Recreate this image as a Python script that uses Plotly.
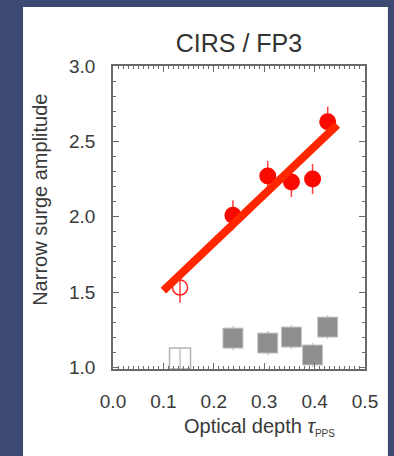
import plotly.graph_objects as go

# Optical depth of each observation and the narrow-surge amplitudes measured there
tau = [0.238, 0.307, 0.354, 0.396, 0.426]
amp_red = [2.01, 2.27, 2.23, 2.25, 2.63]
err_red = [0.10, 0.10, 0.10, 0.10, 0.10]

# Low-tau point shown separately (open symbols)
tau_low = [0.133]
amp_red_low = [1.53]
err_red_low_up = [0.06]
err_red_low_dn = [0.10]

# Reference (grey) amplitudes at the same optical depths
amp_grey = [1.195, 1.162, 1.202, 1.083, 1.268]
err_grey = [0.08, 0.08, 0.08, 0.08, 0.08]
amp_grey_low = [1.06]
err_grey_low = [0.07]

# Linear fit through the red points
fit_x = [0.10, 0.445]
fit_y = [1.51, 2.61]

x_ticks = [0.0, 0.1, 0.2, 0.3, 0.4, 0.5]
y_ticks = [1.0, 1.5, 2.0, 2.5, 3.0]

FONT = "Liberation Sans, Arial, Helvetica, sans-serif"
TXT = "#3a3a3a"
AX = "#6a6a6a"

fig = go.Figure()

fig.add_trace(go.Scatter(
    x=tau_low, y=amp_grey_low, mode="markers",
    marker=dict(symbol="square-open", size=21, color="#b4b4b4", line=dict(width=1.5)),
    error_y=dict(type="data", array=err_grey_low, color="#b4b4b4", thickness=1.2, width=0),
    showlegend=False))

fig.add_trace(go.Scatter(
    x=tau, y=amp_grey, mode="markers",
    marker=dict(symbol="square", size=20, color="#8e8e8e", line=dict(color="#c4c4c4", width=1)),
    error_y=dict(type="data", array=err_grey, color="#bdbdbd", thickness=1.2, width=0),
    showlegend=False))

fig.add_trace(go.Scatter(
    x=tau_low, y=amp_red_low, mode="markers",
    marker=dict(symbol="circle-open", size=15, color="#ff2020", line=dict(width=1.5)),
    error_y=dict(type="data", symmetric=False, array=err_red_low_up,
                 arrayminus=err_red_low_dn, color="#ff3a3a", thickness=1.5, width=0),
    showlegend=False))

fig.add_trace(go.Scatter(
    x=tau, y=amp_red, mode="markers",
    marker=dict(symbol="circle", size=17, color="#f80a00", line=dict(width=0)),
    error_y=dict(type="data", array=err_red, color="#ff4040", thickness=1.5, width=0),
    showlegend=False))

fig.add_trace(go.Scatter(
    x=fit_x, y=fit_y, mode="lines",
    line=dict(color="#ff2600", width=8),
    showlegend=False))

# White panel behind the plot
fig.add_shape(type="rect", xref="paper", yref="paper",
              x0=-0.357, x1=1.091, y0=-0.32, y1=1.195,
              fillcolor="white", line=dict(width=0), layer="below")

axis_common = dict(
    showgrid=False, zeroline=False, showline=True, linecolor=AX, linewidth=1.5,
    mirror="ticks", ticks="inside", ticklen=6, tickwidth=1.2, tickcolor=AX,
    tickfont=dict(family=FONT, size=19, color=TXT),
)

fig.update_xaxes(
    range=[0, 0.5], tickvals=x_ticks, tickformat=".1f",
    ticklabelstandoff=14,
    minor=dict(dtick=0.01, ticks="inside", ticklen=3, tickcolor=AX, tickwidth=1),
    **axis_common)
fig.update_yaxes(
    range=[0.99, 3.0], tickvals=y_ticks, tickformat=".1f",
    ticklabelstandoff=12,
    minor=dict(dtick=0.1, ticks="inside", ticklen=3, tickcolor=AX, tickwidth=1),
    **axis_common)

fig.add_annotation(
    text="Optical depth <i>τ</i><sub><span style='font-size:10px'>PPS</span></sub>",
    xref="paper", yref="paper",
    x=0.58, y=-0.19, xanchor="center", yanchor="middle", showarrow=False,
    font=dict(family=FONT, size=20, color=TXT))
fig.add_annotation(text="Narrow surge amplitude", xref="paper", yref="paper",
                   x=-0.29, y=0.558, xanchor="center", yanchor="middle", showarrow=False,
                   textangle=-90, font=dict(family=FONT, size=20, color=TXT))

fig.update_layout(
    width=394, height=456,
    margin=dict(l=113, r=29, t=66, b=87),
    paper_bgcolor="#3d4970", plot_bgcolor="white",
    title=dict(text="CIRS / FP3", x=0.5, xref="paper", xanchor="center",
               y=1 - 43 / 456, yanchor="middle",
               font=dict(family=FONT, size=25, color="#333333")),
)

fig.write_html("out.html")
